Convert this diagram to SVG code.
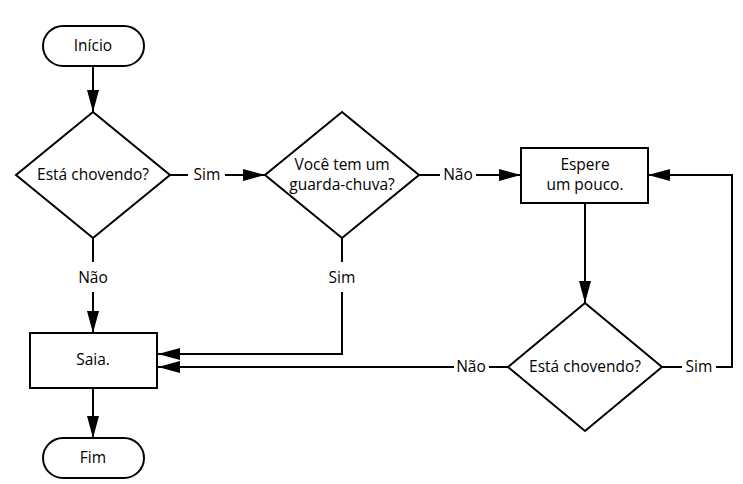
<svg xmlns="http://www.w3.org/2000/svg" width="743" height="484" viewBox="0 0 743 484">
<style>
.s{fill:#fff;stroke:#000;stroke-width:2}
.c{fill:none;stroke:#000;stroke-width:2}
text{font-family:"Open Sans","Noto Sans",sans-serif;font-size:15.5px;fill:#000;text-anchor:middle}
</style>
<defs>
<marker id="ah" markerWidth="22" markerHeight="12" refX="22" refY="6" orient="auto" markerUnits="userSpaceOnUse">
<path d="M0,0 L22,6 L0,12 Z" fill="#000"/>
</marker>
</defs>
<rect width="743" height="484" fill="#fff"/>
<g id="connectors">
<path class="c" d="M93,66 V112" marker-end="url(#ah)"/>
<path class="c" d="M170,175 H188"/>
<path class="c" d="M225,175 H265" marker-end="url(#ah)"/>
<path class="c" d="M419,175 H440"/>
<path class="c" d="M476,175 H521" marker-end="url(#ah)"/>
<path class="c" d="M93,238 V262"/>
<path class="c" d="M93,292 V333" marker-end="url(#ah)"/>
<path class="c" d="M342,238 V262"/>
<path class="c" d="M342,292 V354 H158" marker-end="url(#ah)"/>
<path class="c" d="M585,203 V303" marker-end="url(#ah)"/>
<path class="c" d="M662,367 H682"/>
<path class="c" d="M716,367 H732 V175 H648" marker-end="url(#ah)"/>
<path class="c" d="M508,367 H489"/>
<path class="c" d="M454,367 H158" marker-end="url(#ah)"/>
<path class="c" d="M93,388 V438" marker-end="url(#ah)"/>
</g>
<g id="labels">
<text x="207" y="180">Sim</text>
<text x="458" y="180">Não</text>
<text x="93" y="283">Não</text>
<text x="342" y="283">Sim</text>
<text x="699" y="372">Sim</text>
<text x="471" y="372">Não</text>
</g>
<g id="inicio">
<rect class="s" x="43" y="26" width="101" height="40" rx="20"/>
<text x="93" y="51">Início</text>
</g>
<g id="chovendo1">
<polygon class="s" points="93,112 170,175 93,238 16,175"/>
<text x="93" y="180">Está chovendo?</text>
</g>
<g id="guardachuva">
<polygon class="s" points="342,112 419,175 342,238 265,175"/>
<text x="342" y="170">Você tem um</text>
<text x="342" y="190">guarda-chuva?</text>
</g>
<g id="espere">
<rect class="s" x="521" y="148" width="127" height="55"/>
<text x="585" y="170">Espere</text>
<text x="585" y="190">um pouco.</text>
</g>
<g id="chovendo2">
<polygon class="s" points="585,303 662,367 585,431 508,367"/>
<text x="585" y="372">Está chovendo?</text>
</g>
<g id="saia">
<rect class="s" x="30" y="333" width="127" height="55"/>
<text x="93" y="365">Saia.</text>
</g>
<g id="fim">
<rect class="s" x="43" y="438" width="101" height="40" rx="20"/>
<text x="93" y="463">Fim</text>
</g>
</svg>
